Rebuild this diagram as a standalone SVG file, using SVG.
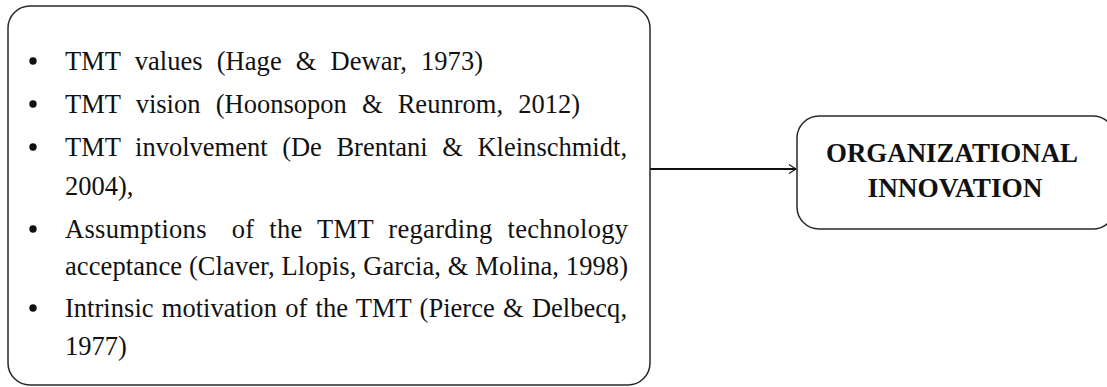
<svg xmlns="http://www.w3.org/2000/svg" width="1107" height="387" viewBox="0 0 1107 387">
  <style>
    .box { fill: #ffffff; stroke: #2a2a2a; stroke-width: 1.5; }
    .item { font-family: "Liberation Serif", "Times New Roman", serif; font-size: 26.5px; fill: #111; }
    .title { font-family: "Liberation Serif", "Times New Roman", serif; font-size: 26.5px; font-weight: bold; fill: #111; text-anchor: middle; }
    .bullet { fill: #111; }
    .link { stroke: #111; stroke-width: 2; fill: none; }
  </style>
  <defs>
    <marker id="chevron" viewBox="0 0 10 10" refX="9" refY="5" markerWidth="10" markerHeight="10" markerUnits="userSpaceOnUse" orient="auto">
      <path d="M2,0.5 L9,5 L2,9.5" fill="none" stroke="#111" stroke-width="1.1"/>
    </marker>
  </defs>
  <rect width="1107" height="387" fill="#ffffff"/>

  <g id="connectors">
    <line class="link" x1="650" y1="169" x2="796" y2="169" marker-end="url(#chevron)"/>
  </g>

  <!-- bulleted list of top management team factors -->
  <g id="tmt-factors">
    <rect class="box" x="8" y="6" width="642" height="379" rx="22" ry="22"/>
    <circle class="bullet" cx="33" cy="61" r="3.7"/>
    <text class="item" x="65" y="70" word-spacing="7.4" textLength="418" lengthAdjust="spacing">TMT values (Hage &amp; Dewar, 1973)</text>
    <circle class="bullet" cx="33" cy="104" r="3.7"/>
    <text class="item" x="65" y="113" word-spacing="8.5" textLength="515" lengthAdjust="spacing">TMT vision (Hoonsopon &amp; Reunrom, 2012)</text>
    <circle class="bullet" cx="33" cy="147" r="3.7"/>
    <text class="item" x="65" y="156" word-spacing="7.9" textLength="562" lengthAdjust="spacing">TMT involvement (De Brentani &amp; Kleinschmidt,</text>
    <text class="item" x="65" y="195">2004),</text>
    <circle class="bullet" cx="33" cy="229" r="3.7"/>
    <text class="item" x="65" y="238" word-spacing="8" textLength="563" lengthAdjust="spacing">Assumptions <tspan dx="10">of the TMT regarding technology</tspan></text>
    <text class="item" x="65" y="275" textLength="563" lengthAdjust="spacing">acceptance (Claver, Llopis, Garcia, &amp; Molina, 1998)</text>
    <circle class="bullet" cx="33" cy="308" r="3.7"/>
    <text class="item" x="65" y="317" word-spacing="1.6" textLength="562" lengthAdjust="spacing">Intrinsic motivation of the TMT (Pierce &amp; Delbecq,</text>
    <text class="item" x="65" y="355">1977)</text>
  </g>

  <g id="organizational-innovation">
    <rect class="box" x="797" y="116" width="318" height="113" rx="22" ry="22"/>
    <text class="title" x="952" y="162" textLength="252" lengthAdjust="spacingAndGlyphs">ORGANIZATIONAL</text>
    <text class="title" x="955" y="197" textLength="175" lengthAdjust="spacingAndGlyphs">INNOVATION</text>
  </g>
</svg>
